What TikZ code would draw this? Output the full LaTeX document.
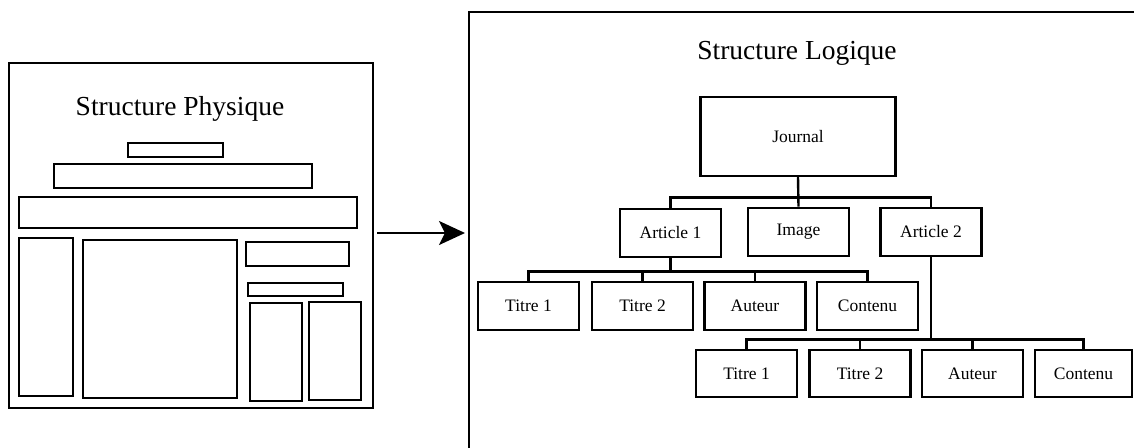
\documentclass[tikz,border=0pt]{standalone}
\usepackage{fontspec}
\setmainfont{Liberation Serif}
\usetikzlibrary{arrows.meta}
\begin{document}
\begin{tikzpicture}[x=1pt,y=-1pt,
  panel/.style={draw=black, line width=2.8pt},
  blk/.style={draw=black, line width=2.8pt},
  box/.style={draw=black, line width=2.9pt, minimum width=101pt, minimum height=48pt, inner sep=0pt, font=\fontsize{17.5}{19}\selectfont},
  conn/.style={draw=black, line width=2.4pt},
  ttl/.style={font=\fontsize{27.5}{31}\selectfont, inner sep=0pt}]
\useasboundingbox (0,0) rectangle (1134,447);
% left panel
\draw[panel] (9,63) rectangle (373,408);
\node[ttl] (tp) at (180,109) {Structure Physique};
\draw[blk] (128,143) rectangle (223,157);
\draw[blk] (54,164) rectangle (312,188);
\draw[blk] (19,197) rectangle (357,228);
\draw[blk] (19,238) rectangle (73,396);
\draw[blk] (83,240) rectangle (237,398);
\draw[blk] (246,242) rectangle (349,266);
\draw[blk] (248,283) rectangle (343,296);
\draw[blk] (250,303) rectangle (302,401);
\draw[blk] (309,302) rectangle (361,400);
% arrow
\coordinate (as) at (377,233);
\coordinate (ae) at (465,233);
\draw[line width=2.2pt, -{Stealth[length=26pt,width=24pt,inset=6pt]}] (as) -- (ae);
% right panel
\draw[panel] (1140,12) -- (469,12) -- (469,452);
\node[ttl] (tl) at (797,53) {Structure Logique};
\node[box, minimum width=195pt, minimum height=79pt] (J) at (798,136.5) {Journal};
\node[box] (A1) at (670.5,233) {Article 1};
\node[box] (I) at (798.5,232) {Image};
\node[box] (A2) at (931,232) {Article 2};
\node[box] (T11) at (528.5,306) {Titre 1};
\node[box] (T12) at (642.5,306) {Titre 2};
\node[box] (U1) at (755,306) {Auteur};
\node[box] (C1) at (867.5,306) {Contenu};
\node[box, minimum height=47pt] (T21) at (746.5,373.5) {Titre 1};
\node[box, minimum height=47pt] (T22) at (860,373.5) {Titre 2};
\node[box, minimum height=47pt] (U2) at (972.5,373.5) {Auteur};
\node[box, minimum height=47pt, minimum width=97pt] (C2) at (1083.5,373.5) {Contenu};
% connectors
\draw[conn] (J.south) -- (I.north);
\draw[conn] (J.south) -- ++(0,20) -| (A1.north);
\draw[conn] (J.south) -- ++(0,20) -| (A2.north);
\draw[conn] (A1.south) -- ++(0,13) -| (T11.north);
\draw[conn] (A1.south) -- ++(0,13) -| (T12.north);
\draw[conn] (A1.south) -- ++(0,13) -| (U1.north);
\draw[conn] (A1.south) -- ++(0,13) -| (C1.north);
\draw[conn] (A2.south) -- ++(0,82) -| (T21.north);
\draw[conn] (A2.south) -- ++(0,82) -| (T22.north);
\draw[conn] (A2.south) -- ++(0,82) -| (U2.north);
\draw[conn] (A2.south) -- ++(0,82) -| (C2.north);
\end{tikzpicture}
\end{document}
